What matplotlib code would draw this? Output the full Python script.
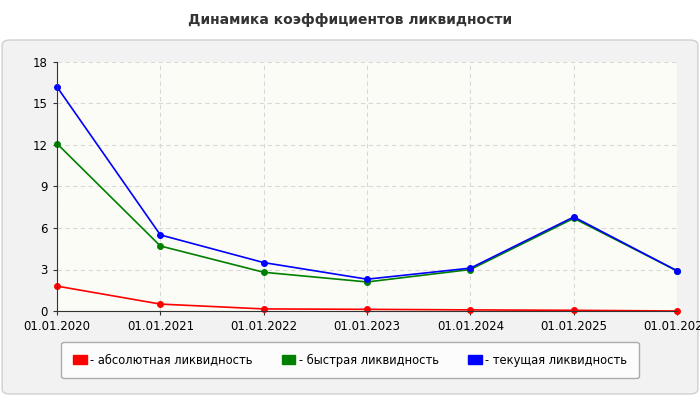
import matplotlib
matplotlib.use("Agg")
import matplotlib.pyplot as plt
from matplotlib.patches import FancyBboxPatch, Rectangle

dates = ["01.01.2020","01.01.2021","01.01.2022","01.01.2023","01.01.2024","01.01.2025","01.01.2026"]
abs_liq = [1.8, 0.5, 0.15, 0.12, 0.08, 0.05, 0.0]
quick_liq = [12.1, 4.7, 2.8, 2.1, 3.0, 6.7, 2.9]
curr_liq = [16.2, 5.5, 3.5, 2.3, 3.1, 6.8, 2.9]
yticks = [0, 3, 6, 9, 12, 15, 18]

fig = plt.figure(figsize=(7, 4), dpi=100)
fig.patch.set_facecolor("white")
panel = FancyBboxPatch((0.003, 0.015), 0.994, 0.885, boxstyle="round,pad=0,rounding_size=0.012",
                       transform=fig.transFigure, facecolor="#f2f2f2", edgecolor="#d0d0d0", lw=1,
                       zorder=-10)
fig.patches.append(panel)
fig.text(0.5, 0.95, "Динамика коэффициентов ликвидности", ha="center", va="center",
         fontsize=10, fontweight="bold", color="#333333")

ax = fig.add_axes([0.0814, 0.2225, 0.886, 0.6225])
ax.set_zorder(5)
ax.set_facecolor("#fcfcf6")
x = list(range(len(dates)))
ax.plot(x, abs_liq, color="#ff0000", marker="o", ms=4, lw=1.2, clip_on=False)
ax.plot(x, quick_liq, color="#008000", marker="o", ms=4, lw=1.2, clip_on=False)
ax.plot(x, curr_liq, color="#0000ff", marker="o", ms=4, lw=1.2, clip_on=False)
ax.set_xlim(0, 6)
ax.set_ylim(0, 18)
ax.set_xticks(x)
ax.set_xticklabels(dates, fontsize=8.5)
ax.set_yticks(yticks)
ax.set_yticklabels([str(v) for v in yticks], fontsize=8.5)
ax.grid(True, color="#d8d8d8", ls=(0, (4, 3)), lw=0.8)
for s in ["top", "right"]:
    ax.spines[s].set_visible(False)
for s in ["left", "bottom"]:
    ax.spines[s].set_color("#333333")
ax.tick_params(length=3, color="#333333")

handles = [Rectangle((0, 0), 1, 1, color=c) for c in ["#ff0000", "#008000", "#0000ff"]]
leg = fig.legend(handles, ["- абсолютная ликвидность", "- быстрая ликвидность", "- текущая ликвидность"],
                 loc="center", bbox_to_anchor=(0.5, 0.1), ncol=3, fontsize=8.3,
                 frameon=True, handlelength=1.2, handleheight=0.8, handletextpad=0.3,
                 columnspacing=2.5, borderpad=1.0, fancybox=True)
leg.get_frame().set_edgecolor("#999999")
leg.get_frame().set_facecolor("white")
leg.set_zorder(6)
fig.savefig("out.png", dpi=100)
